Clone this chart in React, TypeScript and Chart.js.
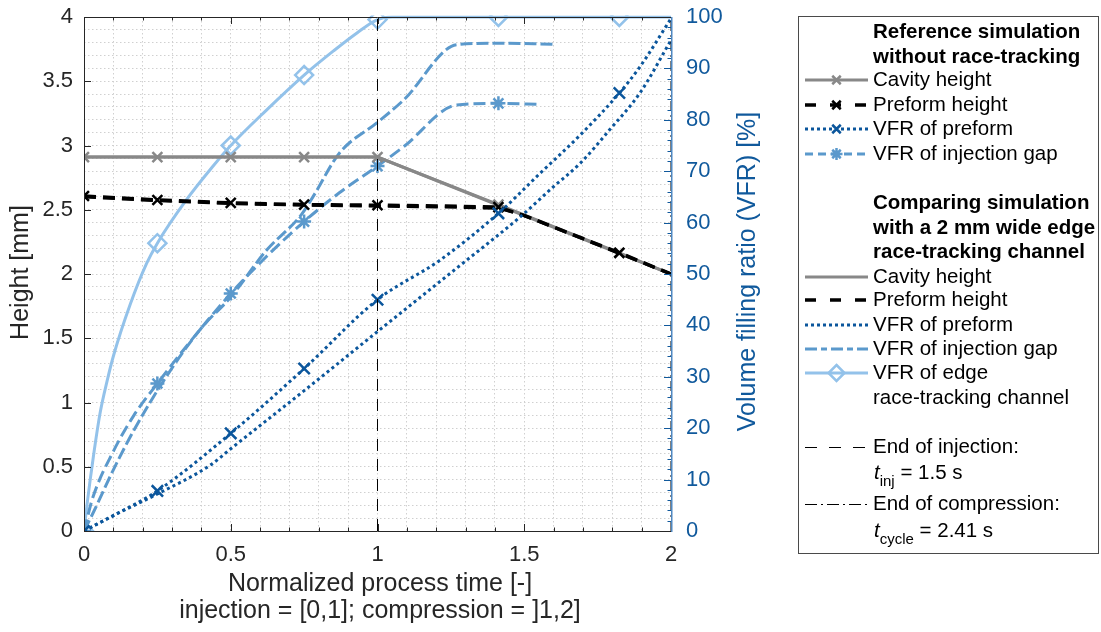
import React, { useEffect, useRef } from 'react';
import { Chart, registerables } from 'chart.js';

Chart.register(...registerables);

const FONT = '"Liberation Sans", Arial, Helvetica, sans-serif';

// ---------- axis ticks ----------
const timeTickValues = [0, 0.5, 1, 1.5, 2];
const timeTickLabels = ['0', '0.5', '1', '1.5', '2'];
const heightTickValues = [0, 0.5, 1, 1.5, 2, 2.5, 3, 3.5, 4];
const heightTickLabels = ['0', '0.5', '1', '1.5', '2', '2.5', '3', '3.5', '4'];
const vfrTickValues = [0, 10, 20, 30, 40, 50, 60, 70, 80, 90, 100];
const vfrTickLabels = ['0', '10', '20', '30', '40', '50', '60', '70', '80', '90', '100'];

// ---------- markers are placed at these process times ----------
const markerTimes = [0, 0.25, 0.5, 0.75, 1, 1.412, 1.824];

// ---------- reference simulation (without race-tracking) ----------
const cavityRefTime = [0, 0.25, 0.5, 0.75, 1, 1.412, 1.824, 2];
const cavityRefHeight = [2.91, 2.91, 2.91, 2.91, 2.91, 2.54, 2.165, 2.0];

const preformRefTime = [0, 0.25, 0.5, 0.75, 1, 1.2, 1.412, 1.5, 1.824, 2];
const preformRefHeight = [2.607, 2.576, 2.553, 2.54, 2.535, 2.53, 2.52, 2.455, 2.165, 2.0];

const vfrPreformRefTime = [0, 0.1, 0.25, 0.5, 0.75, 1, 1.213, 1.412, 1.554, 1.69, 1.824, 1.894, 2];
const vfrPreformRefValue = [0, 3, 7.8, 19, 31.6, 45, 52.7, 61.8, 69.6, 77, 85.2, 90.3, 99.7];

const vfrGapRefTime = [0, 0.03, 0.1, 0.17, 0.25, 0.35, 0.5, 0.62, 0.75, 0.87, 1, 1.09, 1.27, 1.412, 1.553];
const vfrGapRefValue = [0, 6.5, 15.5, 22.5, 28.7, 36, 46.2, 53.3, 60.2, 65.8, 71, 74.8, 82.9, 83.2, 83];

// ---------- comparing simulation (2 mm edge race-tracking channel) ----------
const cavityCompTime = [0, 1, 2];
const cavityCompHeight = [2.91, 2.91, 2.0];

const preformCompTime = [0, 0.25, 0.5, 0.75, 1, 1.2, 1.412, 1.5, 2];
const preformCompHeight = [2.6, 2.57, 2.548, 2.535, 2.528, 2.522, 2.512, 2.455, 2.0];

const vfrPreformCompTime = [0, 0.1, 0.25, 0.43, 0.5, 0.75, 1, 1.12, 1.28, 1.49, 1.6, 1.69, 1.79, 1.894, 2];
const vfrPreformCompValue = [0, 3, 7.2, 12.8, 16, 27.3, 38.8, 44.3, 51.6, 61.3, 67, 71.5, 78, 85.2, 95.5];

const vfrGapCompTime = [0, 0.03, 0.1, 0.17, 0.28, 0.4, 0.5, 0.62, 0.74, 0.78, 0.87, 1, 1.09, 1.27, 1.4, 1.605];
const vfrGapCompValue = [0, 3.4, 11.9, 19.6, 30, 39.5, 45.5, 54.5, 61.5, 65, 73.5, 79.5, 83.9, 94.6, 94.9, 94.7];

const vfrEdgeTime = [0, 0.01, 0.032, 0.055, 0.08, 0.1, 0.157, 0.213, 0.25, 0.35, 0.44, 0.5, 0.62, 0.75, 0.85, 0.93, 1, 1.05, 1.412, 1.824, 2];
const vfrEdgeValue = [0, 5, 14.5, 23, 29.5, 34, 44, 52, 56, 64.5, 71, 75, 81.8, 88.7, 93.4, 96.9, 99.5, 100, 100, 100, 100];

// ---------- process events ----------
const injectionEndTime = 1;
const compressionEndTime = 2;
const heightRange = [0, 4];

// ---------- colours ----------
const C_GRAY = '#888888';
const C_BLACK = '#000000';
const C_DARK = '#0b569c';
const C_MID = '#5b99cc';
const C_LIGHT = '#93c2ea';
const C_AXIS = '#262626';
const C_RIGHT = '#10599c';

const pts = (t: number[], v: number[]) => t.map((x, i) => ({ x, y: v[i] }));

const markerRadius = (r: number) => (c: any) => {
  const raw = c && c.raw;
  if (!raw) return 0;
  return markerTimes.some((m) => Math.abs(m - raw.x) < 1e-6) ? r : 0;
};

const labelFrom = (vals: number[], labels: string[]) => (v: any) => {
  const i = vals.findIndex((t) => Math.abs(t - Number(v)) < 1e-6);
  return i >= 0 ? labels[i] : '';
};

const noScalePadding = (s: any) => {
  s.paddingTop = 0;
  s.paddingBottom = 0;
  s.paddingLeft = 0;
  s.paddingRight = 0;
};

function drawMarker(ctx: CanvasRenderingContext2D, kind: string, x: number, y: number, r: number, color: string, w: number) {
  ctx.save();
  ctx.strokeStyle = color;
  ctx.lineWidth = w;
  ctx.setLineDash([]);
  ctx.beginPath();
  if (kind === 'x') {
    const o = r * Math.SQRT1_2;
    ctx.moveTo(x - o, y - o); ctx.lineTo(x + o, y + o);
    ctx.moveTo(x - o, y + o); ctx.lineTo(x + o, y - o);
  } else if (kind === 'star') {
    const o = r * Math.SQRT1_2;
    ctx.moveTo(x - o, y - o); ctx.lineTo(x + o, y + o);
    ctx.moveTo(x - o, y + o); ctx.lineTo(x + o, y - o);
    ctx.moveTo(x, y - r); ctx.lineTo(x, y + r);
    ctx.moveTo(x - r, y); ctx.lineTo(x + r, y);
  } else if (kind === 'diamond') {
    ctx.moveTo(x, y - r); ctx.lineTo(x + r, y); ctx.lineTo(x, y + r); ctx.lineTo(x - r, y); ctx.closePath();
  }
  ctx.stroke();
  ctx.restore();
}

type Sample = { color: string; width: number; dash: number[]; marker?: string; mr?: number };

const legendItems: { y: number; text?: string; bold?: boolean; sample?: Sample; sub?: [string, string, string] }[] = [
  { y: 32, text: 'Reference simulation', bold: true },
  { y: 57, text: 'without race-tracking', bold: true },
  { y: 80, text: 'Cavity height', sample: { color: C_GRAY, width: 3, dash: [], marker: 'x', mr: 6 } },
  { y: 105, text: 'Preform height', sample: { color: C_BLACK, width: 3.5, dash: [11, 14], marker: 'x', mr: 6 } },
  { y: 129, text: 'VFR of preform', sample: { color: C_DARK, width: 3, dash: [3, 3], marker: 'x', mr: 6 } },
  { y: 154, text: 'VFR of injection gap', sample: { color: C_MID, width: 3, dash: [8, 5], marker: 'star', mr: 6 } },
  { y: 203, text: 'Comparing simulation', bold: true },
  { y: 228, text: 'with a 2 mm wide edge', bold: true },
  { y: 252, text: 'race-tracking channel', bold: true },
  { y: 277, text: 'Cavity height', sample: { color: C_GRAY, width: 3, dash: [] } },
  { y: 300, text: 'Preform height', sample: { color: C_BLACK, width: 3.5, dash: [11, 14] } },
  { y: 325, text: 'VFR of preform', sample: { color: C_DARK, width: 3, dash: [3, 3] } },
  { y: 349, text: 'VFR of injection gap', sample: { color: C_MID, width: 3, dash: [12, 4, 6, 4] } },
  { y: 373, text: 'VFR of edge', sample: { color: C_LIGHT, width: 3, dash: [], marker: 'diamond', mr: 8 } },
  { y: 398, text: 'race-tracking channel' },
  { y: 447, text: 'End of injection:', sample: { color: C_BLACK, width: 1, dash: [12, 12] } },
  { y: 473, sub: ['t', 'inj', ' = 1.5 s'] },
  { y: 504, text: 'End of compression:', sample: { color: C_BLACK, width: 1, dash: [12, 4, 2, 4] } },
  { y: 531, sub: ['t', 'cycle', ' = 2.41 s'] },
];

const decorPlugin = {
  id: 'decor',
  afterDraw(chart: any) {
    const ctx: CanvasRenderingContext2D = chart.ctx;
    const { left, right, top, bottom } = chart.chartArea;
    const xs = chart.scales.x;
    const ys = chart.scales.y;
    const y2 = chart.scales.y2;
    ctx.save();
    const seg = (x1: number, y1: number, x2: number, y2v: number) => {
      ctx.beginPath(); ctx.moveTo(x1, y1); ctx.lineTo(x2, y2v); ctx.stroke();
    };
    // inner tick marks
    ctx.strokeStyle = C_AXIS;
    ctx.lineWidth = 1;
    ctx.setLineDash([]);
    xs.ticks.forEach((t: any) => {
      const px = Math.round(xs.getPixelForValue(t.value)) + 0.5;
      const major = timeTickValues.some((m) => Math.abs(m - t.value) < 1e-6);
      const len = major ? 7 : 3.5;
      seg(px, bottom, px, bottom - len);
      seg(px, top, px, top + len);
    });
    ys.ticks.forEach((t: any) => {
      const major = heightTickValues.some((m) => Math.abs(m - t.value) < 1e-6);
      if (!major) return;
      const py = Math.round(ys.getPixelForValue(t.value)) + 0.5;
      seg(left, py, left + 7, py);
    });
    ctx.strokeStyle = C_RIGHT;
    for (let v = 0; v <= 100; v += 2) {
      const py = Math.round(y2.getPixelForValue(v)) + 0.5;
      const len = v % 10 === 0 ? 7 : 3.5;
      seg(right, py, right - len, py);
    }
    // box
    ctx.strokeStyle = C_AXIS;
    seg(left + 0.5, top, left + 0.5, bottom + 0.5);
    seg(left, bottom + 0.5, right, bottom + 0.5);
    seg(left, top + 0.5, right, top + 0.5);
    ctx.strokeStyle = '#4f88c2';
    ctx.lineWidth = 1.5;
    seg(right + 0.75, top, right + 0.75, bottom + 1);

    // axis titles
    ctx.fillStyle = C_AXIS;
    ctx.font = `25px ${FONT}`;
    ctx.textAlign = 'center';
    ctx.textBaseline = 'alphabetic';
    ctx.fillText('Normalized process time [-]', 380, 591);
    ctx.fillText('injection = [0,1]; compression = ]1,2]', 380, 618);
    ctx.save();
    ctx.translate(28, 272.5);
    ctx.rotate(-Math.PI / 2);
    ctx.fillText('Height [mm]', 0, 0);
    ctx.restore();
    ctx.save();
    ctx.fillStyle = C_RIGHT;
    ctx.translate(755, 271.5);
    ctx.rotate(-Math.PI / 2);
    ctx.fillText('Volume filling ratio (VFR) [%]', 0, 0);
    ctx.restore();

    // legend
    const L = 798, T = 16, R = 1099, B = 553;
    ctx.fillStyle = '#ffffff';
    ctx.fillRect(L, T, R - L, B - T);
    ctx.strokeStyle = '#4a4a4a';
    ctx.lineWidth = 1;
    ctx.strokeRect(L + 0.5, T + 0.5, R - L - 1, B - T);
    const tx = 873;
    const sx1 = 805, sx2 = 868, smid = 836.5;
    ctx.textAlign = 'left';
    ctx.textBaseline = 'middle';
    legendItems.forEach((it) => {
      if (it.sample) {
        const s = it.sample;
        const ly = s.width <= 1 ? it.y + 0.5 : it.y;
        ctx.save();
        ctx.strokeStyle = s.color;
        ctx.lineWidth = s.width;
        ctx.setLineDash(s.dash);
        seg(sx1, ly, sx2, ly);
        ctx.restore();
        if (s.marker) drawMarker(ctx, s.marker, smid, it.y, s.mr || 6, s.color, 2.5);
      }
      ctx.fillStyle = '#000000';
      if (it.text) {
        ctx.font = `${it.bold ? 'bold ' : ''}20.5px ${FONT}`;
        ctx.fillText(it.text, tx, it.y);
      }
      if (it.sub) {
        const [a, b, c] = it.sub;
        ctx.font = `italic 20.5px ${FONT}`;
        ctx.fillText(a, tx + 1, it.y);
        let w = tx + 1 + ctx.measureText(a).width;
        ctx.font = `15px ${FONT}`;
        ctx.fillText(b, w, it.y + 9);
        w += ctx.measureText(b).width;
        ctx.font = `20.5px ${FONT}`;
        ctx.fillText(c, w, it.y);
      }
    });
    ctx.restore();
  },
};

function buildConfig(): any {
  const base = { clip: { left: 0, top: 1.5, right: 0, bottom: 0 }, pointHoverRadius: 0, fill: false };
  const datasets = [
    {
      ...base, label: 'End of injection', yAxisID: 'y',
      data: [{ x: injectionEndTime, y: heightRange[0] }, { x: injectionEndTime, y: heightRange[1] }],
      borderColor: C_BLACK, borderWidth: 1, borderDash: [12, 8], pointRadius: 0,
    },
    {
      ...base, label: 'End of compression', yAxisID: 'y',
      data: [{ x: compressionEndTime, y: heightRange[0] }, { x: compressionEndTime, y: heightRange[1] }],
      borderColor: C_BLACK, borderWidth: 1, borderDash: [10, 4, 2, 4], pointRadius: 0,
    },
    {
      ...base, label: 'VFR of preform (ref)', yAxisID: 'y2', data: pts(vfrPreformRefTime, vfrPreformRefValue),
      borderColor: C_DARK, borderWidth: 3, borderDash: [3, 3.2], cubicInterpolationMode: 'monotone',
      pointStyle: 'crossRot', pointRadius: markerRadius(8), pointBorderColor: C_DARK, pointBorderWidth: 2.5,
    },
    {
      ...base, label: 'VFR of preform (comp)', yAxisID: 'y2', data: pts(vfrPreformCompTime, vfrPreformCompValue),
      borderColor: C_DARK, borderWidth: 3, borderDash: [3, 3.2], cubicInterpolationMode: 'monotone', pointRadius: 0,
    },
    {
      ...base, label: 'Preform height (ref)', yAxisID: 'y', data: pts(preformRefTime, preformRefHeight),
      borderColor: C_BLACK, borderWidth: 3.5, borderDash: [12, 7],
      pointStyle: 'crossRot', pointRadius: markerRadius(7), pointBorderColor: C_BLACK, pointBorderWidth: 2.5,
    },
    {
      ...base, label: 'Preform height (comp)', yAxisID: 'y', data: pts(preformCompTime, preformCompHeight),
      borderColor: C_BLACK, borderWidth: 3, borderDash: [12, 7], pointRadius: 0,
    },
    {
      ...base, label: 'Cavity height (ref)', yAxisID: 'y', data: pts(cavityRefTime, cavityRefHeight),
      borderColor: C_GRAY, borderWidth: 3,
      pointStyle: 'crossRot', pointRadius: markerRadius(7), pointBorderColor: C_GRAY, pointBorderWidth: 2.5,
    },
    {
      ...base, label: 'Cavity height (comp)', yAxisID: 'y', data: pts(cavityCompTime, cavityCompHeight),
      borderColor: C_GRAY, borderWidth: 3, pointRadius: 0,
    },
    {
      ...base, label: 'VFR of injection gap (ref)', yAxisID: 'y2', data: pts(vfrGapRefTime, vfrGapRefValue),
      borderColor: C_MID, borderWidth: 3, borderDash: [12, 5], cubicInterpolationMode: 'monotone',
      pointStyle: 'star', pointRadius: markerRadius(7), pointBorderColor: C_MID, pointBorderWidth: 2.5,
    },
    {
      ...base, label: 'VFR of injection gap (comp)', yAxisID: 'y2', data: pts(vfrGapCompTime, vfrGapCompValue),
      borderColor: C_MID, borderWidth: 3, borderDash: [12, 4], cubicInterpolationMode: 'monotone', pointRadius: 0,
    },
    {
      ...base, label: 'VFR of edge race-tracking channel', yAxisID: 'y2', data: pts(vfrEdgeTime, vfrEdgeValue),
      borderColor: C_LIGHT, borderWidth: 3, cubicInterpolationMode: 'monotone',
      pointStyle: 'rectRot', pointRadius: markerRadius(9), pointBorderColor: C_LIGHT, pointBorderWidth: 2.5,
      pointBackgroundColor: 'rgba(255,255,255,0)',
    },
  ];

  const gridStyle = { color: '#d0d0d0', lineWidth: 1, drawTicks: false };
  return {
    type: 'line',
    data: { datasets },
    options: {
      animation: false,
      responsive: false,
      events: [],
      layout: { padding: { top: 17, left: 0, bottom: 0, right: 341 } },
      plugins: { legend: { display: false }, tooltip: { enabled: false }, title: { display: false } },
      scales: {
        x: {
          type: 'linear', position: 'bottom', min: 0, max: 2,
          grid: gridStyle,
          border: { display: false, dash: [1.5, 2.5] },
          ticks: {
            stepSize: 0.1, autoSkip: false, maxRotation: 0, maxTicksLimit: 100, padding: 11,
            color: C_AXIS, font: { family: FONT, size: 22 },
            callback: labelFrom(timeTickValues, timeTickLabels),
          },
          afterFit: (s: any) => { s.height = 101; noScalePadding(s); },
        },
        y: {
          type: 'linear', position: 'left', min: 0, max: 4,
          grid: gridStyle,
          border: { display: false, dash: [1.5, 2.5] },
          ticks: {
            stepSize: 0.1, autoSkip: false, maxTicksLimit: 100, padding: 11,
            color: C_AXIS, font: { family: FONT, size: 22 },
            callback: labelFrom(heightTickValues, heightTickLabels),
          },
          afterFit: (s: any) => { s.width = 84; noScalePadding(s); },
        },
        y2: {
          type: 'linear', position: 'right', min: 0, max: 100,
          grid: { drawOnChartArea: false, drawTicks: false },
          border: { display: false },
          ticks: {
            stepSize: 10, autoSkip: false, padding: 15,
            color: C_RIGHT, font: { family: FONT, size: 22 },
            callback: labelFrom(vfrTickValues, vfrTickLabels),
          },
          afterFit: (s: any) => { s.width = 89; noScalePadding(s); },
        },
      },
    },
    plugins: [decorPlugin],
  };
}

export default function App() {
  const ref = useRef<HTMLCanvasElement>(null);
  useEffect(() => {
    if (!ref.current) return;
    const chart = new Chart(ref.current, buildConfig());
    return () => chart.destroy();
  }, []);
  return (
    <div style={{ position: 'fixed', left: 0, top: 0, width: 1101, height: 632, background: '#ffffff' }}>
      <canvas ref={ref} width={1101} height={632} style={{ display: 'block' }} />
    </div>
  );
}
